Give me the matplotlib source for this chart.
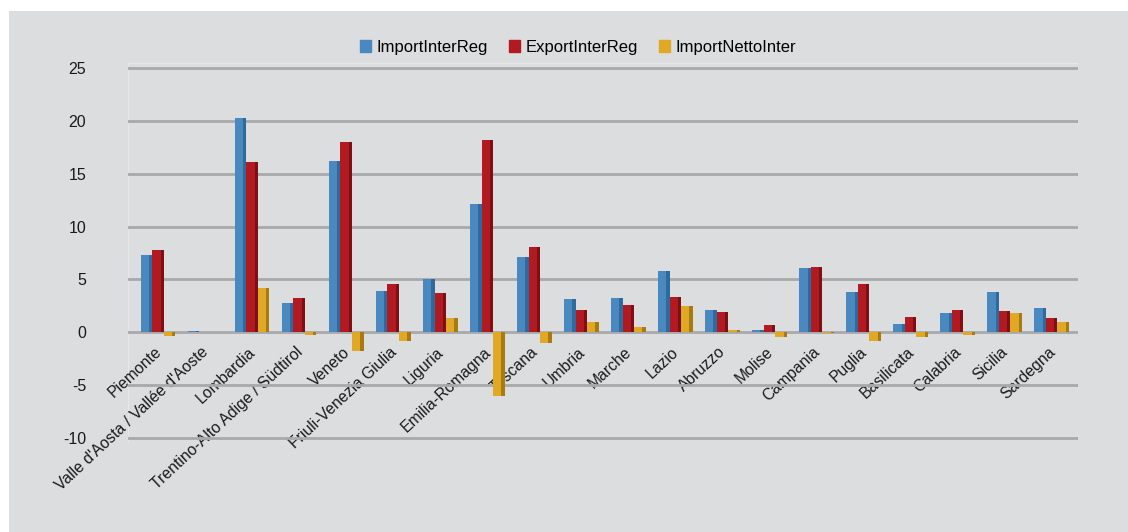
import numpy as np
import matplotlib.pyplot as plt
from matplotlib.patches import Rectangle
from matplotlib.transforms import ScaledTranslation

# regional interchange (TWh)
regions = ["Piemonte", "Valle d'Aosta / Vallée d'Aoste", "Lombardia",
           "Trentino-Alto Adige / Südtirol", "Veneto", "Friuli-Venezia Giulia",
           "Liguria", "Emilia-Romagna", "Toscana", "Umbria", "Marche", "Lazio",
           "Abruzzo", "Molise", "Campania", "Puglia", "Basilicata", "Calabria",
           "Sicilia", "Sardegna"]
import_inter = [7.3, 0.1, 20.3, 2.8, 16.2, 3.9, 5.0, 12.1, 7.1, 3.1,
                3.2, 5.8, 2.1, 0.2, 6.1, 3.8, 0.8, 1.8, 3.8, 2.3]
export_inter = [7.8, 0.05, 16.1, 3.2, 18.0, 4.6, 3.7, 18.2, 8.1, 2.1,
                2.6, 3.3, 1.9, 0.7, 6.2, 4.6, 1.4, 2.1, 2.0, 1.3]
import_netto = [-0.4, 0.0, 4.2, -0.3, -1.8, -0.8, 1.3, -6.0, -1.0, 1.0,
                0.5, 2.5, 0.2, -0.5, -0.1, -0.8, -0.5, -0.3, 1.8, 1.0]

series = [("ImportInterReg", import_inter, "#4a88c0", "#2f6a9e"),
          ("ExportInterReg", export_inter, "#b01a20", "#7e1015"),
          ("ImportNettoInter", import_netto, "#e0a825", "#a87a12")]

plt.rcParams["font.family"] = ["Liberation Sans", "DejaVu Sans"]
plt.rcParams["axes.unicode_minus"] = False
bg = "#dcdddf"

fig = plt.figure(figsize=(11.28, 5.32), dpi=100, facecolor="white")
fig.add_artist(Rectangle((9 / 1128, 0), 1, 1 - 11 / 532,
                         transform=fig.transFigure, facecolor=bg,
                         edgecolor="none", zorder=-10))

ax = fig.add_axes([128 / 1128, 1 - 443 / 532, 950 / 1128, 380 / 532])
ax.set_facecolor(bg)

x = np.arange(len(regions))
width = 0.245
for i, (name, vals, col, dark) in enumerate(series):
    pos = x + (i - 1) * width
    ax.bar(pos, vals, width, color=col, label=name, zorder=3)
    # darker right-hand side to give the bars some depth
    ax.bar(pos + width * 0.36, vals, width * 0.28, color=dark, zorder=3)

ax.set_xlim(-0.64, 19.56)
ax.set_ylim(-10.5, 25.5)
ax.set_yticks(range(-10, 26, 5))
ax.yaxis.grid(True, color="#a9a9ab", linewidth=2, zorder=1)
ax.tick_params(axis="both", length=0, colors="#1a1a1a")
ax.tick_params(axis="y", pad=30, labelsize=11.5)

# category labels hang from the zero line
ax.spines["bottom"].set_position(("data", 0))
ax.set_xticks(x)
ax.set_xticklabels(regions, rotation=43, ha="right", rotation_mode="anchor")
ax.tick_params(axis="x", pad=8, labelsize=11.3)
shift = ScaledTranslation(-4 / 100, -1 / 100, fig.dpi_scale_trans)
for lab in ax.get_xticklabels():
    lab.set_transform(lab.get_transform() + shift)
for s in ax.spines.values():
    s.set_visible(False)
ax.add_patch(Rectangle((0, 0), 1, 1, transform=ax.transAxes, fill=False,
                       edgecolor="#e6e7e9", linewidth=1, zorder=0))

handles = [Rectangle((0, 0), 1, 1, color=c) for _, _, c, _ in series]
ax.legend(handles, [s[0] for s in series], loc="lower center",
          bbox_to_anchor=(0.474, 0.982), ncol=3, frameon=False, fontsize=12,
          handlelength=0.65, handleheight=0.65, handletextpad=0.35,
          columnspacing=1.25)

fig.savefig("out.png", dpi=100, facecolor="white")
